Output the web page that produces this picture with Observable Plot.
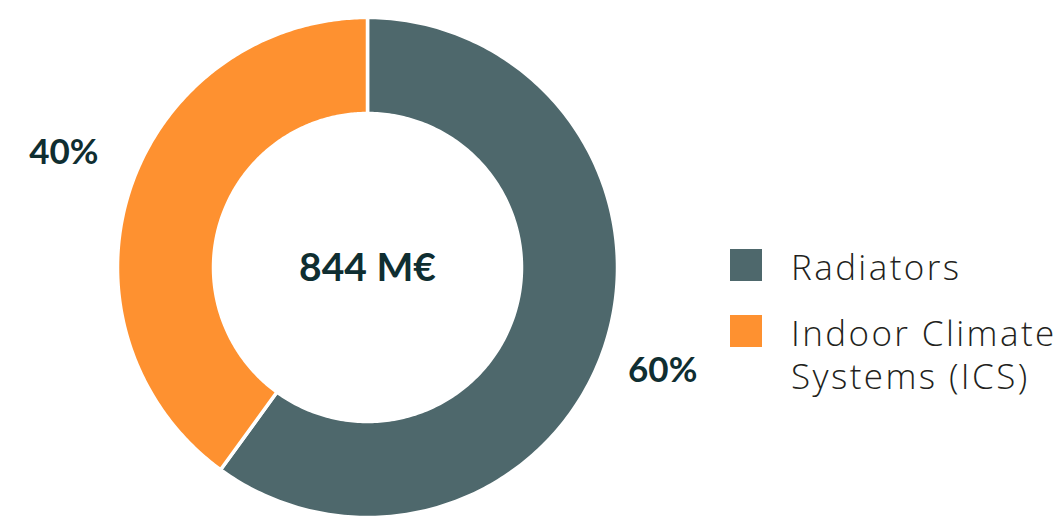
<!DOCTYPE html>
<html>
<head>
<meta charset="utf-8">
<script src="https://cdn.jsdelivr.net/npm/d3@7"></script>
<script src="https://cdn.jsdelivr.net/npm/@observablehq/plot@0.6"></script>
<style>
  html, body { margin: 0; padding: 0; background: #fff; }
  #wrap { position: relative; width: 1062px; height: 517px; overflow: hidden; }
  #legend { position: absolute; left: 730px; top: 249px; font-family: "Open Sans", Lato, sans-serif; color: #231f20; font-weight: 300; }
  .item { display: flex; align-items: flex-start; margin-bottom: 27px; }
  .sw { width: 32px; height: 32px; flex: none; margin-right: 29px; }
  .lab { font-size: 35px; line-height: 43px; margin-top: -4px; white-space: nowrap; letter-spacing: 2.4px; }
</style>
</head>
<body>
<div id="wrap"><div id="chart"></div><div id="legend"></div></div>
<script>
const categories = ["Radiators", "Indoor Climate\nSystems (ICS)"];
const values = [60, 40];
const colors = ["#4e686c", "#fe9130"];
const pctLabels = ["60%", "40%"];
const total = "844 M€";

const inner = 0.616, outer = 1;
const pie = d3.pie().sort(null).value(d => d.value)(categories.map((c, i) => ({c, value: values[i], i})));

const pts = [];
pie.forEach(a => {
  const n = 240;
  for (let k = 0; k <= n; k++) {
    const t = a.startAngle + (a.endAngle - a.startAngle) * k / n;
    pts.push({i: a.data.i, x: outer * Math.sin(t), y: outer * Math.cos(t)});
  }
  for (let k = n; k >= 0; k--) {
    const t = a.startAngle + (a.endAngle - a.startAngle) * k / n;
    pts.push({i: a.data.i, x: inner * Math.sin(t), y: inner * Math.cos(t)});
  }
  pts.push({i: a.data.i, x: outer * Math.sin(a.startAngle), y: outer * Math.cos(a.startAngle)});
});

const lr = [1.25, 1.30];
const la = [0.02, 0.05];
const labels = pie.map(a => {
  const m = (a.startAngle + a.endAngle) / 2 + la[a.data.i];
  const r = lr[a.data.i];
  return {x: r * Math.sin(m), y: r * Math.cos(m), t: pctLabels[a.data.i]};
});

const chart = Plot.plot({
  width: 1062, height: 517,
  margin: 0,
  x: {domain: [-367/250, (1062-367)/250], range: [0, 1062], axis: null},
  y: {domain: [-1, 267/250], range: [517, 0], axis: null},
  style: {background: "transparent"},
  marks: [
    Plot.line(pts, {x: "x", y: "y", z: "i", fill: d => colors[d.i], stroke: "#fff", strokeWidth: 3.5, curve: "linear"}),
    Plot.text(labels, {x: "x", y: "y", text: "t", dy: 1, fontSize: 35, fontWeight: 700, fill: "#0f2e31", fontFamily: "Lato, sans-serif"}),
    Plot.text([total], {x: 0, y: 0, text: d => d, dy: 1, fontSize: 39, fontWeight: 700, fill: "#0f2e31", fontFamily: "Lato, sans-serif"})
  ]
});
document.getElementById("chart").appendChild(chart);

const leg = document.getElementById("legend");
categories.forEach((c, i) => {
  const it = document.createElement("div");
  it.className = "item";
  const sw = document.createElement("div");
  sw.className = "sw"; sw.style.background = colors[i];
  const lb = document.createElement("div");
  lb.className = "lab";
  lb.innerHTML = c.split("\n").join("<br>");
  it.appendChild(sw); it.appendChild(lb);
  leg.appendChild(it);
});
</script>
</body>
</html>
